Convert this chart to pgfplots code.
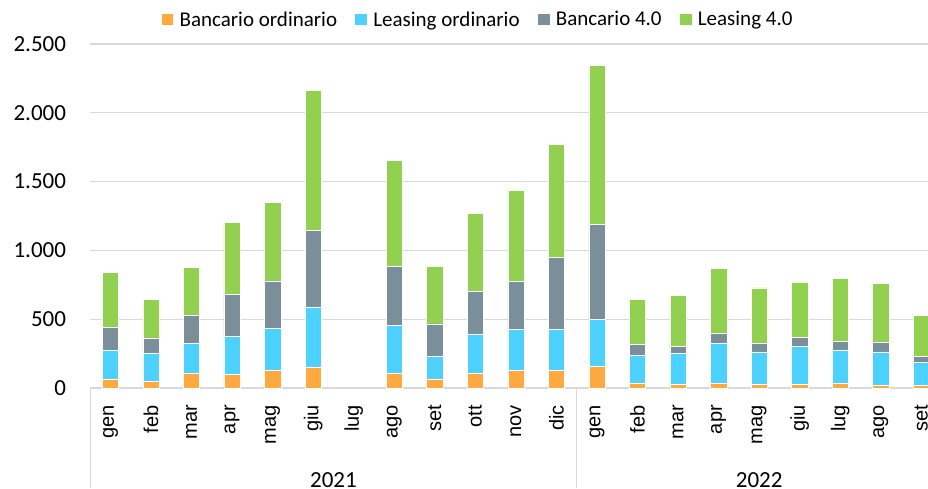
\documentclass[border=0pt]{standalone}
\usepackage{pgfplots}
\pgfplotsset{compat=1.18}
\usepackage{pgfplotstable}
\usepackage{fontspec}
\setmainfont{Carlito}
\newfontfamily\monthfont{Liberation Sans}
\definecolor{cOr}{HTML}{FFA940}
\definecolor{cBl}{HTML}{4DD2FF}
\definecolor{cGr}{HTML}{7A8F99}
\definecolor{cLg}{HTML}{92D050}
\definecolor{cGrid}{HTML}{D9D9D9}

\pgfplotstableread{
x o b g l
0 67 208 165 398
1 48 206 111 280
2 104 222 203 350
3 99 278 306 522
4 130 305 343 570
5 154 435 554 1019
6 0 0 0 0
7 104 353 429 766
8 67 165 234 420
9 106 283 314 565
10 128 300 345 667
11 130 298 524 819
12 155 345 690 1153
13 38 201 77 329
14 27 224 50 373
15 34 292 74 467
16 24 239 61 403
17 29 272 69 401
18 36 239 63 459
19 22 241 68 428
20 17 169 42 298
}\datatable

\pgfplotsset{sqlegend/.style={legend image code/.code={%
  \fill[##1, draw=none] (0pt,-5.85pt) rectangle (11.7pt,5.85pt);
  \path (-18pt,0pt) (17.7pt,0pt);}}}

\begin{document}
\begin{tikzpicture}
\begin{axis}[
  at={(90.2pt,100pt)}, anchor=south west,
  scale only axis, width=851.4pt, height=344pt,
  xmin=-0.5, xmax=20.5, ymin=0, ymax=2500,
  ybar stacked, bar width=16.3pt,
  clip=false,
  xtick={0,...,20},
  xticklabels={gen,feb,mar,apr,mag,giu,lug,ago,set,ott,nov,dic,gen,feb,mar,apr,mag,giu,lug,ago,set},
  ytick={0,500,1000,1500,2000,2500},
  scaled y ticks=false,
  /pgf/number format/1000 sep={.},
  /pgf/number format/assume math mode=true,
  ymajorgrids, grid style={draw=cGrid, line width=1.3pt},
  axis x line*=bottom, axis y line*=left,
  x axis line style={draw=cGrid, line width=1.3pt, -},
  y axis line style={draw=none},
  major tick length=0pt,
  yticklabel style={font=\fontsize{23}{27}\selectfont, anchor=east, inner sep=0pt, xshift=-24pt},
  xticklabel style={font=\monthfont\fontsize{20}{24}\selectfont, yshift=-17pt, rotate=90, anchor=east, inner sep=0pt},
  legend columns=4,
  legend style={draw=none, fill=none, at={(0.4437,1.0712)}, anchor=center,
    font=\fontsize{21}{25}\selectfont, column sep=0pt, nodes={inner sep=0pt}},
]
\addplot[fill=cOr, draw=white, line width=0.5pt, sqlegend] table[x=x, y=o] {\datatable};
\addplot[fill=cBl, draw=white, line width=0.5pt, sqlegend] table[x=x, y=b] {\datatable};
\addplot[fill=cGr, draw=white, line width=0.5pt, sqlegend] table[x=x, y=g] {\datatable};
\addplot[fill=cLg, draw=white, line width=0.5pt, sqlegend] table[x=x, y=l] {\datatable};
\legend{Bancario ordinario, Leasing ordinario, Bancario 4.0, Leasing 4.0}
\draw[cGrid, line width=1pt] (axis cs:-0.5,0) -- ++(0pt,-100pt);
\draw[cGrid, line width=1pt] (axis cs:11.5,0) -- ++(0pt,-100pt);
\node[font=\fontsize{23}{27}\selectfont, anchor=base, inner sep=0pt] at ([yshift=-99pt]axis cs:5.5,0) {2021};
\node[font=\fontsize{23}{27}\selectfont, anchor=base, inner sep=0pt] at ([yshift=-99pt]axis cs:16,0) {2022};
\end{axis}
\pgfresetboundingbox
\path (0pt,0pt) rectangle (928pt,488pt);
\end{tikzpicture}
\end{document}
